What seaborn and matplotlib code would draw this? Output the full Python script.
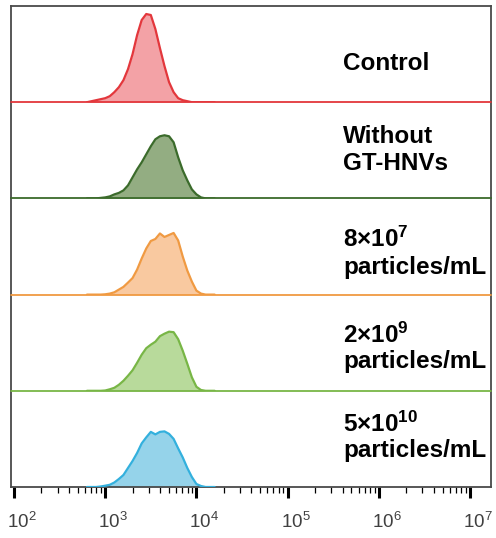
import numpy as np
import pandas as pd
import matplotlib
matplotlib.use("Agg")
import matplotlib.pyplot as plt
import matplotlib.transforms as mtransforms
import seaborn as sns
from matplotlib.ticker import LogLocator, NullFormatter

# ---- data ----
log_bins = [2.80, 2.85, 2.90, 2.95, 3.00, 3.05, 3.10, 3.15, 3.20, 3.25,
            3.30, 3.35, 3.40, 3.45, 3.50, 3.55, 3.60, 3.65, 3.70, 3.75,
            3.80, 3.85, 3.90, 3.95, 4.00, 4.05, 4.10, 4.15, 4.20]

control = [0, 1, 2, 3, 4, 6, 10, 15, 22, 33,
           48, 67, 82, 88, 87, 73, 54, 36, 20, 10,
           4, 2, 1, 0, 0, 0, 0, 0, 0]
without = [0, 0, 0, 0.5, 1, 2, 4, 5.5, 8, 13,
           21, 29, 36, 44, 52, 59, 62, 63, 62, 56,
           41, 28, 18, 9, 4, 1, 0, 0, 0]
dose_8e7 = [0, 0, 0, 0, 0.3, 1, 2.3, 5, 7.7, 12,
            16.5, 25, 36, 46, 53.5, 55.5, 61, 57.5, 59.5, 61.5,
            54, 38, 24, 13, 4, 1, 0, 0, 0]
dose_2e9 = [0, 0, 0, 0, 0.3, 1.5, 3, 6, 10, 15,
            20.5, 28, 36, 42.5, 46, 49, 54.5, 57, 59, 58.5,
            51.5, 40, 27, 13.5, 4, 0.8, 0, 0, 0]
dose_5e10 = [0, 0, 0, 0.5, 1.3, 2.2, 4.5, 8, 12, 19,
             26, 34, 43.5, 49.5, 55, 52.5, 55, 55.5, 53, 48,
             38.5, 29.5, 19, 10, 3, 1, 0, 0, 0]

series = [control, without, dose_8e7, dose_2e9, dose_5e10]
line_colors = ["#e3373c", "#3b6b2b", "#f09a42", "#78b646", "#33b0dd"]
fill_colors = ["#f3a2a6", "#93ad82", "#f9c9a0", "#b8da9b", "#95d3ea"]
label_lines = [
    ["Control"],
    ["Without", "GT-HNVs"],
    [r"$\mathbf{8×10^{7}}$", "particles/mL"],
    [r"$\mathbf{2×10^{9}}$", "particles/mL"],
    [r"$\mathbf{5×10^{10}}$", "particles/mL"],
]

# ---- style ----
sns.set_style("white")
plt.rcParams["font.family"] = ["Liberation Sans", "DejaVu Sans"]
plt.rcParams["mathtext.fontset"] = "custom"
plt.rcParams["mathtext.rm"] = "Liberation Sans"
plt.rcParams["mathtext.bf"] = "Liberation Sans:bold"
plt.rcParams["mathtext.it"] = "Liberation Sans:italic"

W, H = 496, 538
fig, axes = plt.subplots(5, 1, figsize=(W / 100, H / 100), dpi=100,
                         sharex=True, gridspec_kw=dict(hspace=0))
fig.subplots_adjust(left=11 / W, right=491 / W, top=1 - 6 / H, bottom=1 - 487 / H)

frame_color = "#4a4a4a"
x_vals = 10 ** np.array(log_bins)

for i, ax in enumerate(axes):
    ax.set_facecolor("none")
    ax.set_zorder(10 - i)
    df = pd.DataFrame({"x": x_vals, "y": series[i]})
    ax.fill_between(df["x"], df["y"], color=fill_colors[i], lw=0, zorder=1)
    sns.lineplot(data=df, x="x", y="y", ax=ax, color=line_colors[i], lw=1.6,
                 zorder=3)
    ax.set_xscale("log")
    ax.set_xlim(10 ** 1.967, 10 ** 7.23)
    ax.set_ylim(0, 96)
    ax.set_xlabel("")
    ax.set_ylabel("")
    ax.set_yticks([])
    for s in ax.spines.values():
        s.set_color(frame_color)
        s.set_linewidth(1.3)
    if i > 0:
        ax.spines["top"].set_visible(False)
    if i < 4:
        ax.spines["bottom"].set_visible(False)
        ax.axhline(0, color=line_colors[i], lw=1.3, zorder=6, clip_on=False)
        ax.tick_params(axis="x", which="both", bottom=False, labelbottom=False)

ax = axes[-1]
ax.xaxis.set_major_locator(LogLocator(base=10, numticks=20))
ax.xaxis.set_minor_locator(LogLocator(base=10, subs=np.arange(2, 10), numticks=20))
ax.xaxis.set_minor_formatter(NullFormatter())
ax.tick_params(axis="x", which="major", direction="out", bottom=True,
               length=8, width=2.2, color="black", labelsize=13.5, pad=10,
               labelcolor="#404040")
ax.tick_params(axis="x", which="minor", direction="out", bottom=True,
               length=4, width=0.9, color="black")
shift = mtransforms.ScaledTranslation(8 / 100, 0, fig.dpi_scale_trans)
for lab in ax.get_xticklabels():
    lab.set_transform(lab.get_transform() + shift)

# ---- labels (baselines in pixel rows) ----
label_baselines = [[70], [143, 170], [247, 274], [343, 368], [432, 457]]
for lines, ys in zip(label_lines, label_baselines):
    for txt, ypx in zip(lines, ys):
        fig.text(343 / W, 1 - ypx / H, txt, fontsize=17.5, fontweight="bold",
                 ha="left", va="baseline", color="black")

fig.savefig("out.png", dpi=100)
